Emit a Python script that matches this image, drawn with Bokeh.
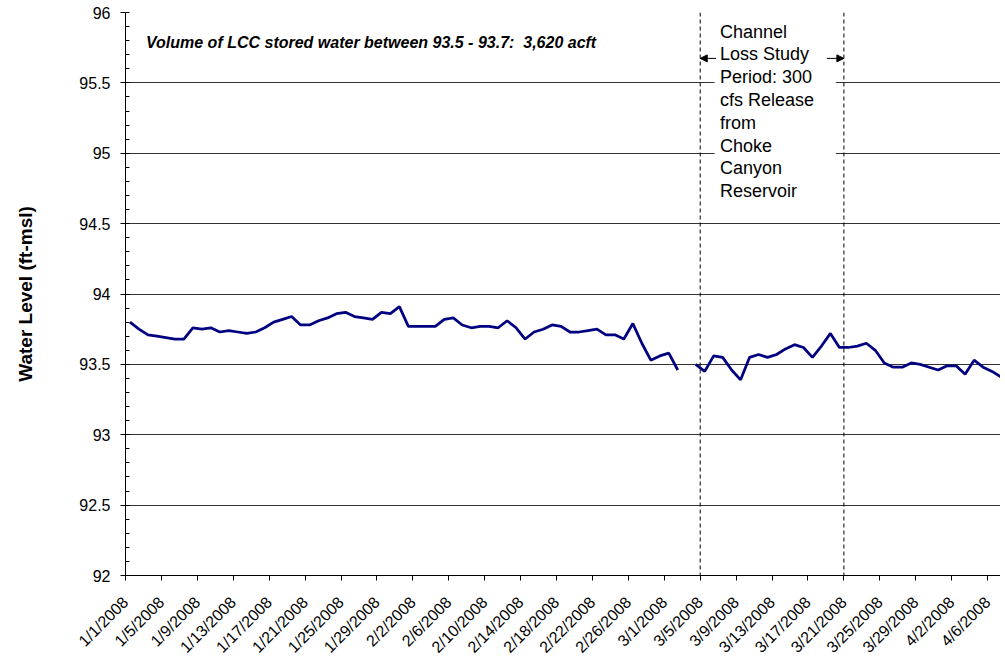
import math
from bokeh.plotting import figure
from bokeh.models import (Range1d, FixedTicker, NumeralTickFormatter, Span, Label,
                          BoxAnnotation, Arrow, NormalHead, ColumnDataSource)
from bokeh.embed import file_html
from bokeh.resources import INLINE

nan = float("nan")

# daily water level (ft-msl), one value per day starting 1/1/2008
levels = [93.80, 93.75, 93.71, 93.70, 93.69, 93.68, 93.68, 93.76, 93.75, 93.76,
          93.73, 93.74, 93.73, 93.72, 93.73, 93.76, 93.80, 93.82, 93.84, 93.78,
          93.78, 93.81, 93.83, 93.86, 93.87, 93.84, 93.83, 93.82, 93.87, 93.86,
          93.91, 93.77, 93.77, 93.77, 93.77, 93.82, 93.83, 93.78, 93.76, 93.77,
          93.77, 93.76, 93.81, 93.76, 93.68, 93.73, 93.75, 93.78, 93.77, 93.73,
          93.73, 93.74, 93.75, 93.71, 93.71, 93.68, 93.79, 93.65, 93.53, 93.56,
          93.58, 93.46, nan, 93.50, 93.45, 93.56, 93.55, 93.46, 93.39, 93.55,
          93.57, 93.55, 93.57, 93.61, 93.64, 93.62, 93.55, 93.63, 93.72, 93.62,
          93.62, 93.63, 93.65, 93.60, 93.51, 93.48, 93.48, 93.51, 93.50, 93.48,
          93.46, 93.49, 93.49, 93.43, 93.53, 93.48, 93.45, 93.41]

tick_labels = ["1/1/2008", "1/5/2008", "1/9/2008", "1/13/2008", "1/17/2008",
               "1/21/2008", "1/25/2008", "1/29/2008", "2/2/2008", "2/6/2008",
               "2/10/2008", "2/14/2008", "2/18/2008", "2/22/2008", "2/26/2008",
               "3/1/2008", "3/5/2008", "3/9/2008", "3/13/2008", "3/17/2008",
               "3/21/2008", "3/25/2008", "3/29/2008", "4/2/2008", "4/6/2008"]
tick_step_days = 4

study_start = "3/5/2008"
study_end = "3/21/2008"

y_ticks = [92, 92.5, 93, 93.5, 94, 94.5, 95, 95.5, 96]

annotation = "Volume of LCC stored water between 93.5 - 93.7:\u00a0 3,620 acft"
study_text = "Channel\nLoss Study\nPeriod: 300\ncfs Release\nfrom\nChoke\nCanyon\nReservoir"

FONT = "Liberation Sans"

# each day occupies one unit; values plotted at the middle of their day
xs = [i + 0.5 for i in range(len(levels))]
src = ColumnDataSource(dict(x=xs, y=levels))

p = figure(width=1000, height=664, output_backend="svg", toolbar_location=None,
           x_range=Range1d(0, 97.44), y_range=Range1d(92, 96),
           min_border_left=125, min_border_right=0, min_border_top=12,
           min_border_bottom=88, background_fill_color="white",
           border_fill_color="white")
p.outline_line_color = None
p.xgrid.grid_line_color = None
p.ygrid.grid_line_color = "black"
p.ygrid.grid_line_alpha = 0.8
p.ygrid.grid_line_width = 1

tick_pos = [i * tick_step_days for i in range(len(tick_labels))]
p.xaxis.ticker = FixedTicker(ticks=tick_pos)
p.xaxis.major_label_overrides = {t: l for t, l in zip(tick_pos, tick_labels)}
p.xaxis.major_label_orientation = math.pi / 4
p.xaxis.major_label_text_font = FONT
p.xaxis.major_label_text_font_size = "16px"
p.xaxis.major_label_text_color = "black"
p.xaxis.major_tick_in = 0
p.xaxis.major_tick_out = 5
p.xaxis.minor_tick_line_color = None
p.xaxis.axis_line_color = "black"
p.xaxis.major_tick_line_color = "black"
p.xaxis.major_label_standoff = 19

minor = [92 + 0.1 * k for k in range(41)]
p.yaxis.ticker = FixedTicker(ticks=y_ticks, minor_ticks=minor)
p.yaxis.formatter = NumeralTickFormatter(format="0.[0]")
p.yaxis.major_label_text_font = FONT
p.yaxis.major_label_text_font_size = "16px"
p.yaxis.major_label_text_color = "black"
p.yaxis.major_tick_in = 0
p.yaxis.major_tick_out = 5
p.yaxis.minor_tick_in = 4
p.yaxis.minor_tick_out = 0
p.yaxis.minor_tick_line_color = "black"
p.yaxis.major_tick_line_color = "black"
p.yaxis.axis_line_color = "black"
p.yaxis.major_label_standoff = 10
p.yaxis.axis_label = "Water Level (ft-msl)"
p.yaxis.axis_label_text_font = FONT
p.yaxis.axis_label_text_font_style = "bold"
p.yaxis.axis_label_text_font_size = "19px"
p.yaxis.axis_label_text_color = "black"
p.yaxis.axis_label_standoff = 40

p.line("x", "y", source=src, line_color="#000080", line_width=2.75)

x_start = tick_labels.index(study_start) * tick_step_days
x_end = tick_labels.index(study_end) * tick_step_days
for xv in (x_start, x_end):
    p.add_layout(Span(location=xv, dimension="height", line_color="black",
                      line_width=1, line_dash="4 3"))

p.add_layout(BoxAnnotation(left=65.6, right=79.1, bottom=94.63, top=95.985,
                           fill_color="white", fill_alpha=1.0, line_color=None))

p.add_layout(Label(x=66.2, y=95.935, text=study_text, text_baseline="top",
                   text_align="left", text_font=FONT, text_font_size="18px",
                   text_line_height=1.14, text_color="black"))

p.add_layout(Arrow(end=NormalHead(size=7, fill_color="black", line_color="black"),
                   x_start=65.76, y_start=95.674, x_end=x_start, y_end=95.674,
                   line_color="black", line_width=1))
p.add_layout(Arrow(end=NormalHead(size=7, fill_color="black", line_color="black"),
                   x_start=78.1, y_start=95.674, x_end=x_end, y_end=95.674,
                   line_color="black", line_width=1))

p.add_layout(Label(x=2.28, y=95.787, text=annotation, text_baseline="alphabetic",
                   text_align="left", text_font=FONT, text_font_size="16px",
                   text_font_style="bold italic", text_color="black"))

open("out.html", "w").write(file_html(p, INLINE))
